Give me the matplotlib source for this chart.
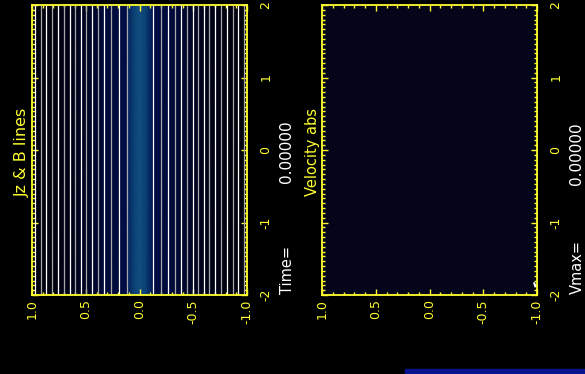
import matplotlib
matplotlib.use("Agg")
import matplotlib.pyplot as plt
import numpy as np
from matplotlib.colors import LinearSegmentedColormap
from matplotlib.ticker import MultipleLocator
from matplotlib.patches import Rectangle

# field line positions (y) of the B contours, left to right
bline_y = [0.972, 0.916, 0.870, 0.814, 0.758, 0.702, 0.647, 0.600, 0.544, 0.498,
           0.442, 0.386, 0.330, 0.265, 0.191, 0.116,
           -0.126, -0.200, -0.268, -0.330, -0.386, -0.442, -0.498, -0.544, -0.600,
           -0.647, -0.702, -0.758, -0.814, -0.870, -0.916, -0.972]

# Jz profile across the sheet (normalised)
jz_y = [-1.0, -0.8, -0.6, -0.4, -0.3, -0.2, -0.13, -0.11, -0.06, 0.0,
        0.06, 0.11, 0.13, 0.2, 0.3, 0.4, 0.6, 0.8, 1.0]
jz_v = [0.0, 0.04, 0.1, 0.2, 0.26, 0.32, 0.38, 0.6, 0.85, 1.0,
        0.85, 0.6, 0.38, 0.32, 0.26, 0.2, 0.1, 0.04, 0.0]

y_ticks = [1.0, 0.5, 0.0, -0.5, -1.0]
x_ticks = [-2, -1, 0, 1, 2]
time_val = 0.0
vmax_val = 0.0

YEL = '#ffff30'
cmap = LinearSegmentedColormap.from_list(
    'jz', ['#000008', '#000a3a', '#001050', '#063468', '#124e80'])

fig = plt.figure(figsize=(5.85, 3.74), dpi=100, facecolor='black')


def frame(ax):
    ax.set_xlim(1, -1)
    ax.set_ylim(-2, 2)
    ax.set_xticks(y_ticks)
    ax.set_xticklabels([f'{v:.1f}' for v in y_ticks])
    ax.set_yticks(x_ticks)
    ax.set_yticklabels([str(v) for v in x_ticks])
    ax.xaxis.set_minor_locator(MultipleLocator(0.1))
    ax.yaxis.set_minor_locator(MultipleLocator(1 / 15))
    for s in ax.spines.values():
        s.set_color(YEL)
        s.set_linewidth(1.3)
    ax.tick_params(which='both', direction='in', color=YEL, top=True, right=True,
                   left=True, bottom=True, width=1.0)
    ax.tick_params(which='major', length=4)
    ax.tick_params(which='minor', length=2)
    ax.tick_params(axis='x', labelrotation=90, labelcolor=YEL, labelsize=9, pad=3)
    ax.tick_params(axis='y', labelleft=False, labelright=True, labelrotation=90,
                   labelcolor=YEL, labelsize=9, pad=9)
    for lab in ax.get_yticklabels():
        lab.set_verticalalignment('center')


# left panel: Jz with B lines
ax1 = fig.add_axes([32 / 585, 1 - 295 / 374, 215 / 585, 290 / 374])
X = np.array([jz_y, jz_y])
Y = np.array([[-2.0] * len(jz_y), [2.0] * len(jz_y)])
C = np.array([jz_v, jz_v])
ax1.pcolormesh(X, Y, C, cmap=cmap, shading='gouraud', vmin=0, vmax=1)
for i, yv in enumerate(bline_y):
    ax1.vlines(yv, -2, 2, color='white' if i % 2 == 0 else '#a8a8a8', lw=0.9)
frame(ax1)

# right panel: velocity magnitude
ax2 = fig.add_axes([322 / 585, 1 - 295 / 374, 215 / 585, 290 / 374])
ax2.set_facecolor('#05051a')
ax2.plot([-0.985, -0.975], [-1.88, -1.84], color='white', lw=1.5)
frame(ax2)

fig.text(22 / 585, 1 - 152 / 374, 'Jz & B lines', color=YEL, rotation=90,
         ha='center', va='center', fontsize=11.5)
fig.text(312 / 585, 1 - 152 / 374, 'Velocity abs', color=YEL, rotation=90,
         ha='center', va='center', fontsize=10.5)

fig.text(287 / 585, 1 - 270 / 374, 'Time=', color='white', rotation=90,
         ha='center', va='center', fontsize=10.5)
fig.text(287 / 585, 1 - 152 / 374, f'{time_val:.5f}', color='white', rotation=90,
         ha='center', va='center', fontsize=11)
fig.text(577 / 585, 1 - 267 / 374, 'Vmax=', color='white', rotation=90,
         ha='center', va='center', fontsize=10.5)
fig.text(577 / 585, 1 - 154 / 374, f'{vmax_val:.5f}', color='white', rotation=90,
         ha='center', va='center', fontsize=11)

# strip along the bottom edge
fig.patches.append(Rectangle((405 / 585, 0), 180 / 585, 5 / 374,
                             transform=fig.transFigure, color='#0a1490', zorder=0))

fig.savefig('out.png', dpi=100, facecolor='black')
